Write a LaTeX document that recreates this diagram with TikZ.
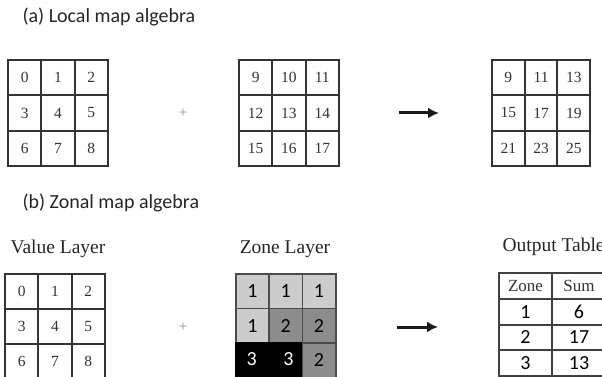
\documentclass[tikz,border=0pt]{standalone}
\usepackage{fontspec}
\usetikzlibrary{arrows.meta}
\setmainfont{Liberation Serif}
\newfontfamily\calib{Carlito}
\begin{document}
\begin{tikzpicture}[x=1pt,y=-1pt,
  cellbox/.style={draw=black!80, line width=2pt, minimum width=33.3pt, minimum height=35.3pt, inner sep=0pt, anchor=north west, font=\fontsize{15.5}{17}\selectfont, text=black!80},
  zonebox/.style={draw=black!70, line width=1.6pt, minimum width=33.3pt, minimum height=34.6pt, inner sep=0pt, anchor=north west, font=\calib\fontsize{20}{22}\selectfont},
  tabbox/.style={draw=black!75, line width=2pt, inner sep=0pt, anchor=north west},
  title/.style={font=\calib\fontsize{20}{23}\selectfont, anchor=base west, text=black!85},
  layer/.style={font=\fontsize{19.5}{22}\selectfont, anchor=base, text=black!85},
  plus/.style={font=\fontsize{15}{17}\selectfont, text=black!45},
  arr/.style={line width=3pt, -{Latex[length=11pt,width=11pt]}, black!90}
]
\useasboundingbox[fill=white] (0,0) rectangle (602,377);
% titles
\node[title] (ta) at (19,23) {(a) Local map algebra};
\node[title] (tb) at (19,208) {(b) Zonal map algebra};
% (a) grids
\foreach \v [count=\i from 0] in {0,1,2,3,4,5,6,7,8}{
  \pgfmathtruncatemacro{\r}{int(\i/3)}
  \pgfmathtruncatemacro{\c}{mod(\i,3)}
  \node[cellbox] (a1-\i) at ({7+33.3*\c},{59+35.3*\r}) {\v};
}
\foreach \v [count=\i from 0] in {9,10,11,12,13,14,15,16,17}{
  \pgfmathtruncatemacro{\r}{int(\i/3)}
  \pgfmathtruncatemacro{\c}{mod(\i,3)}
  \node[cellbox] (a2-\i) at ({238+33.3*\c},{59+35.3*\r}) {\v};
}
\foreach \v [count=\i from 0] in {9,11,13,15,17,19,21,23,25}{
  \pgfmathtruncatemacro{\r}{int(\i/3)}
  \pgfmathtruncatemacro{\c}{mod(\i,3)}
  \node[cellbox, minimum width=32.7pt] (a3-\i) at ({491+32.7*\c},{59+35.3*\r}) {\v};
}
\node[plus] (pa) at (183,113) {+};
\coordinate (aa1) at (399,113);
\coordinate (aa2) at (439,113);
\draw[arr] (aa1) -- (aa2);
% (b)
\node[layer] (lv) at (58,253) {Value Layer};
\node[layer] (lz) at (285,253) {Zone Layer};
\node[layer, anchor=base west] (lo) at (499,251) {Output Table};
\foreach \v [count=\i from 0] in {0,1,2,3,4,5,6,7,8}{
  \pgfmathtruncatemacro{\r}{int(\i/3)}
  \pgfmathtruncatemacro{\c}{mod(\i,3)}
  \node[cellbox, minimum height=34.8pt] (b1-\i) at ({4+33.3*\c},{273+34.8*\r}) {\v};
}
% zone layer
\node[zonebox, fill=black!20] (z0) at (235,273) {1};
\node[zonebox, fill=black!20] (z1) at (268.3,273) {1};
\node[zonebox, fill=black!20] (z2) at (301.6,273) {1};
\node[zonebox, fill=black!20] (z3) at (235,307.6) {1};
\node[zonebox, fill=black!45] (z4) at (268.3,307.6) {2};
\node[zonebox, fill=black!45] (z5) at (301.6,307.6) {2};
\node[zonebox, fill=black, draw=black, minimum width=66.6pt] (z67) at (235,342.2) {};
\node[zonebox, fill=black!45] (z8) at (301.6,342.2) {2};
\node[font=\calib\fontsize{20}{22}\selectfont, text=white] (z6t) at (251.6,359) {3};
\node[font=\calib\fontsize{20}{22}\selectfont, text=white] (z7t) at (288.5,359) {3};
\node[plus] (pb) at (183,327) {+};
\coordinate (ba1) at (397,327);
\coordinate (ba2) at (438,327);
\draw[arr] (ba1) -- (ba2);
% output table
\node[tabbox, minimum width=53pt, minimum height=26pt, font=\fontsize{17}{19}\selectfont, text=black!80] (h1) at (498,272) {Zone};
\node[tabbox, minimum width=54pt, minimum height=26pt, font=\fontsize{17}{19}\selectfont, text=black!80] (h2) at (551,272) {Sum};
\foreach \z/\s [count=\i from 0] in {1/6,2/17,3/13}{
  \node[tabbox, minimum width=53pt, minimum height=25.6pt, font=\calib\fontsize{20}{22}\selectfont] (r\i a) at (498,{298+25.6*\i}) {\z};
  \node[tabbox, minimum width=54pt, minimum height=25.6pt, font=\calib\fontsize{20}{22}\selectfont] (r\i b) at (551,{298+25.6*\i}) {\s};
}
\end{tikzpicture}
\end{document}
